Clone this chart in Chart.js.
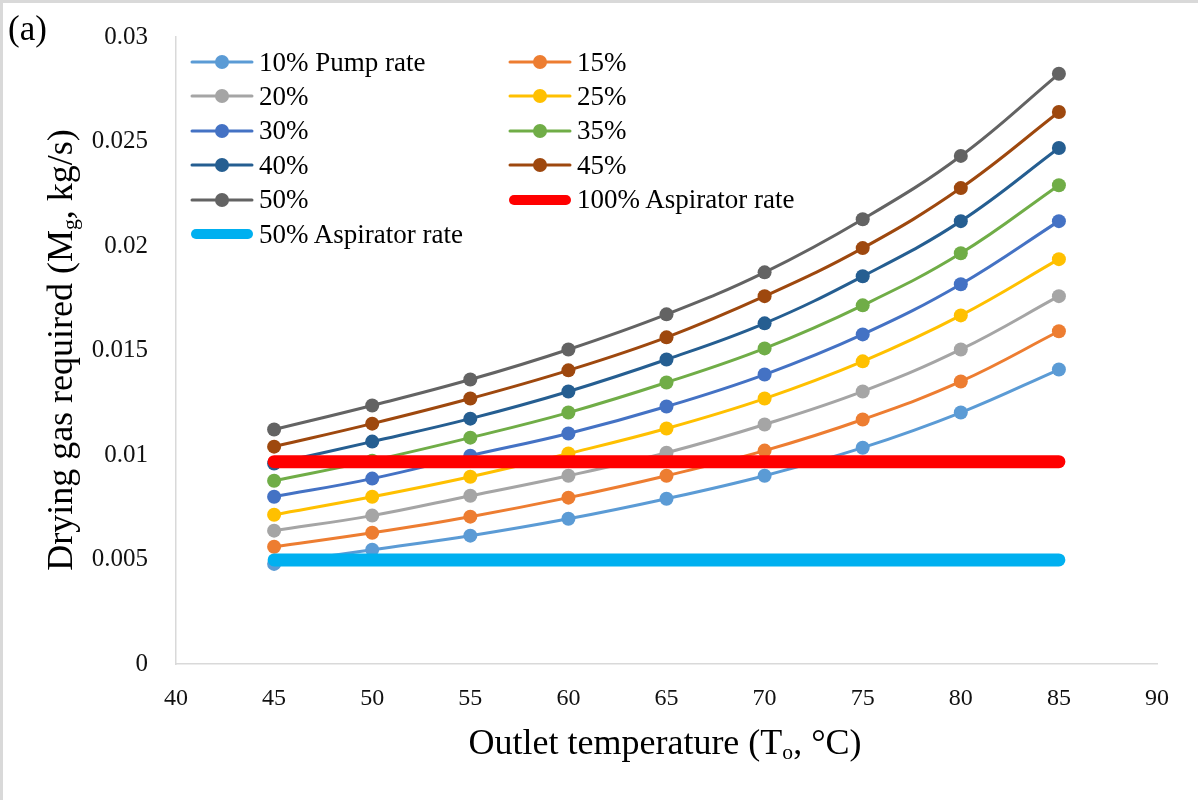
<!DOCTYPE html>
<html><head><meta charset="utf-8">
<script src="https://cdn.jsdelivr.net/npm/chart.js@4/dist/chart.umd.min.js"></script>
<style>
html,body{margin:0;padding:0;background:#fff;}
#wrap{position:relative;width:1198px;height:800px;overflow:hidden;font-family:"Liberation Serif","Times New Roman",serif;color:#000;background:#fff;}
#c{position:absolute;left:0;top:0;}
#frame{position:absolute;left:0;top:0;width:1198px;height:800px;border-left:3px solid #d9d9d9;border-top:3px solid #d9d9d9;box-sizing:border-box;pointer-events:none;}
.lab{position:absolute;white-space:nowrap;}
.leg{position:absolute;display:flex;align-items:center;font-size:27px;white-space:nowrap;height:30px;}
.leg svg{display:block;margin-right:5px;}
#xt{position:absolute;left:0;width:1330px;top:721px;text-align:center;font-size:36px;white-space:nowrap;}
#yt{position:absolute;left:61px;top:350px;transform:translate(-50%,-50%) rotate(-90deg);font-size:36px;white-space:nowrap;}
sub{font-size:0.6em;vertical-align:-0.25em;}
</style></head>
<body>
<div id="wrap">
<canvas id="c" width="1198" height="800"></canvas>
<div id="frame"></div>
<div class="lab" style="left:8px;top:9px;font-size:35px;">(a)</div>
<div id="xt">Outlet temperature (T<sub>o</sub>, °C)</div>
<div id="yt">Drying gas required (M<sub>g</sub>, kg/s)</div>
<div id="legend"></div>
</div>
<script>
const temps = [45, 50, 55, 60, 65, 70, 75, 80, 85];
const pump10 = [0.00479, 0.00547, 0.00614, 0.00695, 0.00791, 0.00901, 0.01035, 0.01203, 0.01409];
const pump15 = [0.00561, 0.00628, 0.00705, 0.00796, 0.00901, 0.01021, 0.01170, 0.01352, 0.01592];
const pump20 = [0.00638, 0.00710, 0.00805, 0.00901, 0.01011, 0.01146, 0.01304, 0.01505, 0.01760];
const pump25 = [0.00714, 0.00800, 0.00896, 0.01007, 0.01127, 0.01270, 0.01448, 0.01668, 0.01937];
const pump30 = [0.00800, 0.00887, 0.00997, 0.01103, 0.01232, 0.01385, 0.01577, 0.01817, 0.02119];
const pump35 = [0.00877, 0.00973, 0.01083, 0.01203, 0.01347, 0.01510, 0.01716, 0.01965, 0.02291];
const pump40 = [0.00959, 0.01064, 0.01174, 0.01304, 0.01457, 0.01630, 0.01855, 0.02119, 0.02469];
const pump45 = [0.01040, 0.01150, 0.01270, 0.01405, 0.01563, 0.01760, 0.01990, 0.02277, 0.02641];
const pump50 = [0.01122, 0.01237, 0.01361, 0.01505, 0.01673, 0.01874, 0.02128, 0.02431, 0.02824];
const aspirator100 = [0.00968, 0.00968, 0.00968, 0.00968, 0.00968, 0.00968, 0.00968, 0.00968, 0.00968];
const aspirator50 = [0.00498, 0.00498, 0.00498, 0.00498, 0.00498, 0.00498, 0.00498, 0.00498, 0.00498];
const yTicks = [0, 0.005, 0.01, 0.015, 0.02, 0.025, 0.03];
const xTicks = [40, 45, 50, 55, 60, 65, 70, 75, 80, 85, 90];

const pumpSeries = [
  {label: '10% Pump rate', data: pump10, color: '#5B9BD5'},
  {label: '15%', data: pump15, color: '#ED7D31'},
  {label: '20%', data: pump20, color: '#A5A5A5'},
  {label: '25%', data: pump25, color: '#FFC000'},
  {label: '30%', data: pump30, color: '#4472C4'},
  {label: '35%', data: pump35, color: '#70AD47'},
  {label: '40%', data: pump40, color: '#255E91'},
  {label: '45%', data: pump45, color: '#9E480E'},
  {label: '50%', data: pump50, color: '#636363'}
];
const aspSeries = [
  {label: '100% Aspirator rate', data: aspirator100, color: '#FF0000'},
  {label: '50% Aspirator rate', data: aspirator50, color: '#00B0F0'}
];
const toPts = arr => temps.map((t, i) => ({x: t, y: arr[i]}));
const total = pumpSeries.length + aspSeries.length;
const datasets = [];
pumpSeries.forEach((s, i) => datasets.push({
  label: s.label, data: toPts(s.data), borderColor: s.color, backgroundColor: s.color,
  pointBackgroundColor: s.color, pointBorderColor: s.color, pointBorderWidth: 0,
  pointRadius: 7, borderWidth: 3, tension: 0.4, order: total - i
}));
aspSeries.forEach((s, j) => datasets.push({
  label: s.label, data: toPts(s.data), borderColor: s.color, backgroundColor: s.color,
  pointRadius: 0, borderWidth: 13, borderCapStyle: 'round', tension: 0, order: aspSeries.length - j - 1
}));

new Chart(document.getElementById('c'), {
  type: 'line',
  data: {datasets},
  options: {
    responsive: false, animation: false, events: [],
    layout: {padding: {left: 0, top: 37, right: 41, bottom: 0}},
    plugins: {legend: {display: false}, tooltip: {enabled: false}},
    scales: {
      x: {
        type: 'linear', min: 40, max: 90,
        afterBuildTicks: sc => { sc.ticks = xTicks.map(v => ({value: v})); },
        afterFit: sc => { sc.height = 136; sc.paddingLeft = 0; sc.paddingRight = 0; },
        grid: {display: false, drawTicks: false},
        border: {display: true, color: '#d9d9d9', width: 1.5},
        ticks: {color: '#111', padding: 20, font: {family: 'Liberation Serif', size: 24}, callback: v => String(v)}
      },
      y: {
        type: 'linear', min: 0, max: 0.03,
        afterBuildTicks: sc => { sc.ticks = yTicks.map(v => ({value: v})); },
        afterFit: sc => { sc.width = 176; sc.paddingTop = 0; sc.paddingBottom = 0; },
        grid: {display: false, drawTicks: false},
        border: {display: true, color: '#d9d9d9', width: 1.5},
        ticks: {color: '#111', padding: 28, font: {family: 'Liberation Serif', size: 25}, callback: v => String(+v.toFixed(3))}
      }
    }
  }
});

// two-column legend, Excel style
const legendOrder = [
  [pumpSeries[0], pumpSeries[2], pumpSeries[4], pumpSeries[6], pumpSeries[8], aspSeries[1]],
  [pumpSeries[1], pumpSeries[3], pumpSeries[5], pumpSeries[7], aspSeries[0]]
];
const colX = [190, 508];
const rowY0 = 62, rowDY = 34.4;
const legEl = document.getElementById('legend');
legendOrder.forEach((col, ci) => col.forEach((s, ri) => {
  const d = document.createElement('div');
  d.className = 'leg';
  d.style.left = colX[ci] + 'px';
  d.style.top = (rowY0 + ri * rowDY - 15) + 'px';
  const thick = s.label.indexOf('Aspirator') >= 0;
  const svg = thick
    ? `<svg width="64" height="20"><line x1="6" y1="10" x2="58" y2="10" stroke="${s.color}" stroke-width="10" stroke-linecap="round"/></svg>`
    : `<svg width="64" height="20"><line x1="2" y1="10" x2="62" y2="10" stroke="${s.color}" stroke-width="3" stroke-linecap="round"/><circle cx="32" cy="10" r="7" fill="${s.color}"/></svg>`;
  d.innerHTML = svg + '<span>' + s.label + '</span>';
  legEl.appendChild(d);
}));
</script>
</body></html>
